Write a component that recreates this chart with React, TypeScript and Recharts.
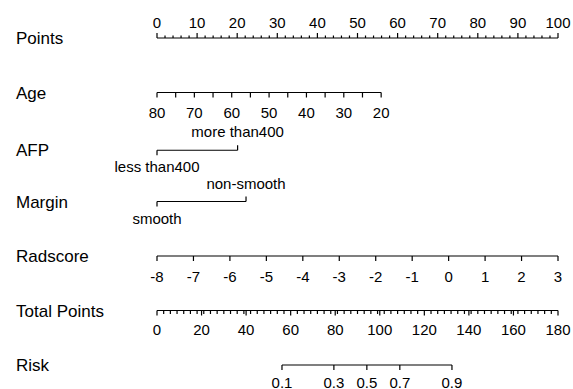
import React from 'react';
import { ScatterChart, Scatter, XAxis, YAxis } from 'recharts';

// row names down the left side
const rowNames = ['Points', 'Age', 'AFP', 'Margin', 'Radscore', 'Total Points', 'Risk'];
const rowPos = [0, 1, 2.06, 3, 4, 5, 6];

// Points scale (0-100)
const pointsLabels = [0, 10, 20, 30, 40, 50, 60, 70, 80, 90, 100];
const pointsMinorStep = 2;

// Age: 80 -> 0 points, 20 -> ~55.9 points
const ageLabels = [80, 70, 60, 50, 40, 30, 20];
const ageMinor = [75, 65, 55, 45, 35, 25];
const ageMaxPoints = 55.9;

// categorical predictors
const afpLevels = ['less than400', 'more than400'];
const afpPoints = [0, 20.1];
const marginLevels = ['smooth', 'non-smooth'];
const marginPoints = [0, 22.2];

// Radscore -8..3 spans the full 0-100 points
const radscoreLabels = [-8, -7, -6, -5, -4, -3, -2, -1, 0, 1, 2, 3];

// Total points 0-180
const totalLabels = [0, 20, 40, 60, 80, 100, 120, 140, 160, 180];
const totalMinorStep = 3;
const totalMax = 180;

// Risk, with the total points where each value sits
const riskLabels = ['0.1', '0.3', '0.5', '0.7', '0.9'];
const riskTotals = [56.1, 79.4, 94.2, 109.0, 132.4];

const FONT = '"Liberation Sans", Arial, Helvetica, sans-serif';

const range = (a: number, b: number, step: number) => {
  const out: number[] = [];
  for (let v = a; v <= b + 1e-9; v += step) out.push(+v.toFixed(4));
  return out;
};

type Mark = { x: number; y: number; label: string; major: boolean; up: boolean };

const sortX = (m: Mark[]) => m.sort((a, b) => a.x - b.x);

// build marks for each row
const pointsRow: Mark[] = sortX([
  ...pointsLabels.map((v) => ({ x: v, y: rowPos[0], label: String(v), major: true, up: true })),
  ...range(0, 100, pointsMinorStep)
    .filter((v) => !pointsLabels.includes(v))
    .map((v) => ({ x: v, y: rowPos[0], label: '', major: false, up: true })),
]);

const agePts = (age: number) => ((80 - age) / 60) * ageMaxPoints;
const ageRow: Mark[] = sortX([
  ...ageLabels.map((v) => ({ x: agePts(v), y: rowPos[1], label: String(v), major: true, up: false })),
  ...ageMinor.map((v) => ({ x: agePts(v), y: rowPos[1], label: '', major: false, up: false })),
]);

const afpRow: Mark[] = afpLevels.map((lv, i) => ({
  x: afpPoints[i], y: rowPos[2], label: lv, major: true, up: i === 1,
}));

const marginRow: Mark[] = marginLevels.map((lv, i) => ({
  x: marginPoints[i], y: rowPos[3], label: lv, major: true, up: i === 1,
}));

const radRow: Mark[] = radscoreLabels.map((v) => ({
  x: ((v + 8) / 11) * 100, y: rowPos[4], label: String(v), major: true, up: false,
}));

const totPts = (t: number) => (t / totalMax) * 100;
const totalRow: Mark[] = sortX([
  ...totalLabels.map((v) => ({ x: totPts(v), y: rowPos[5], label: String(v), major: true, up: false })),
  ...range(0, totalMax, totalMinorStep)
    .filter((v) => !totalLabels.includes(v))
    .map((v) => ({ x: totPts(v), y: rowPos[5], label: '', major: false, up: false })),
]);

const riskRow: Mark[] = riskLabels.map((lab, i) => ({
  x: totPts(riskTotals[i]), y: rowPos[6], label: lab, major: true, up: false,
}));

type TickStyle = { major: number; minor: number; above: number; below: number };

const tickShape = (st: TickStyle) => (props: any) => {
  const { cx, cy, payload } = props;
  if (cx == null || cy == null) return <g />;
  const len = payload.major ? st.major : st.minor;
  const dir = payload.up ? -1 : 1;
  const ty = payload.up ? cy - st.above : cy + st.below;
  return (
    <g>
      <line x1={cx} x2={cx} y1={cy} y2={cy + dir * len} stroke="#000" strokeWidth={1.2} />
      {payload.label !== '' && (
        <text x={cx} y={ty} textAnchor="middle" fontSize={15} fontFamily={FONT} fill="#000">
          {payload.label}
        </text>
      )}
    </g>
  );
};

const RowLabel = (props: any) => {
  const { y, payload } = props;
  const idx = rowPos.indexOf(payload.value);
  return (
    <text x={16} y={y + 6} textAnchor="start" fontSize={17} fontFamily={FONT} fill="#000">
      {rowNames[idx]}
    </text>
  );
};

const rows: { data: Mark[]; st: TickStyle }[] = [
  { data: pointsRow, st: { major: 5, minor: 2.5, above: 10, below: 0 } },
  { data: ageRow, st: { major: 5, minor: 5, above: 0, below: 25 } },
  { data: afpRow, st: { major: 5, minor: 5, above: 13, below: 22 } },
  { data: marginRow, st: { major: 5, minor: 5, above: 13, below: 22 } },
  { data: radRow, st: { major: 5, minor: 5, above: 0, below: 26 } },
  { data: totalRow, st: { major: 5, minor: 3.5, above: 0, below: 24 } },
  { data: riskRow, st: { major: 5, minor: 5, above: 0, below: 22.5 } },
];

export default function App() {
  return (
    <div style={{ position: 'absolute', left: 0, top: 0, background: '#fff' }}>
      <ScatterChart width={573} height={389} margin={{ top: 38, right: 15, bottom: 24, left: 0 }}>
        <XAxis type="number" dataKey="x" domain={[0, 100]} hide />
        <YAxis
          type="number"
          dataKey="y"
          domain={[0, 6]}
          reversed
          ticks={rowPos}
          interval={0}
          width={157}
          axisLine={false}
          tickLine={false}
          tick={RowLabel}
        />
        {rows.map((r, i) => (
          <Scatter
            key={rowNames[i]}
            data={r.data}
            line={{ stroke: '#000', strokeWidth: 1.2 }}
            shape={tickShape(r.st)}
            isAnimationActive={false}
          />
        ))}
      </ScatterChart>
    </div>
  );
}
